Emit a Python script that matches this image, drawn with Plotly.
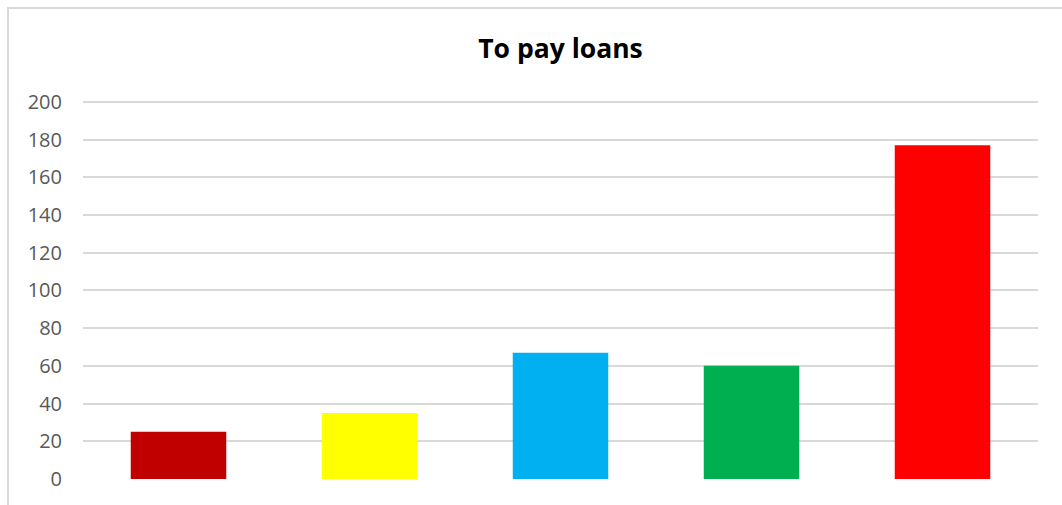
import plotly.graph_objects as go

# Loan repayment amounts by group
groups = ["Group 1", "Group 2", "Group 3", "Group 4", "Group 5"]
amounts = [25, 35, 67, 60, 177]
bar_colors = ["#C00000", "#FFFF00", "#00B0F0", "#00B050", "#FF0000"]
y_ticks = [0, 20, 40, 60, 80, 100, 120, 140, 160, 180, 200]

W, H = 1062, 505
Y_MAX = 201  # a little headroom so the 200 gridline is drawn
M_L, M_R, M_B = 83, 24, 26
px_per_unit = (479 - 102) / 200
M_T = round(102 - (Y_MAX - 200) * px_per_unit)
plot_w = W - M_L - M_R
plot_h = H - M_T - M_B

fig = go.Figure(
    go.Bar(
        x=groups,
        y=amounts,
        marker=dict(color=bar_colors, line=dict(width=0)),
        width=0.5,
        hoverinfo="x+y",
    )
)

fig.update_layout(
    width=W,
    height=H,
    margin=dict(l=M_L, r=M_R, t=M_T, b=M_B),
    paper_bgcolor="white",
    plot_bgcolor="white",
    showlegend=False,
    title=dict(
        text="<b>To pay loans</b>",
        x=0.5,
        xref="paper",
        y=1 - 49 / H,
        yanchor="middle",
        font=dict(family="Open Sans", size=26.5, color="#000000"),
    ),
    font=dict(family="Open Sans", color="#595959"),
    xaxis=dict(
        showticklabels=False,
        showgrid=False,
        zeroline=False,
        showline=False,
        ticks="",
    ),
    yaxis=dict(
        range=[0, Y_MAX],
        tickvals=y_ticks,
        showgrid=True,
        gridcolor="#D9D9D9",
        gridwidth=1.5,
        zeroline=False,
        showline=False,
        ticks="",
        ticklabelstandoff=20,
        tickfont=dict(family="Open Sans", size=20, color="#595959"),
    ),
)

# Light grey chart-area frame (left and top edges visible)
fig.add_shape(
    type="rect",
    xref="paper",
    yref="paper",
    x0=(8 - M_L) / plot_w,
    x1=(W + 20 - M_L) / plot_w,
    y0=-(M_B + 20) / plot_h,
    y1=1 + (M_T - 8) / plot_h,
    line=dict(color="#D9D9D9", width=2),
    fillcolor="rgba(0,0,0,0)",
    layer="below",
)

fig.write_html("out.html")
